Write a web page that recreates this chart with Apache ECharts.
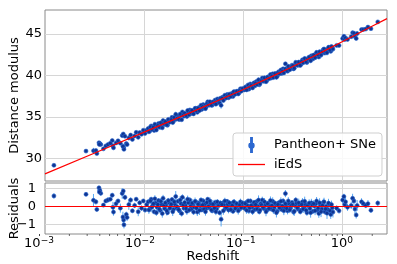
<!DOCTYPE html>
<html><head><meta charset="utf-8">
<script src="https://cdn.jsdelivr.net/npm/echarts@6/dist/echarts.min.js"></script>
<style>html,body{margin:0;padding:0;background:#fff}#c{width:397px;height:264px}</style>
</head><body><div id="c"></div>
<script>
// ---- data ----
const redshift = [
0.00123,0.00259,0.00308,0.00326,0.00333,0.00350,0.00357,0.00365,0.00353,0.00388,0.00410,0.00431,0.00476,0.00484,0.00490,0.00455,0.00520,0.00545,0.00575,0.00600,0.00615,0.00620,0.00625,0.00610,0.00640,0.00660,0.00672,0.00700,0.00730,0.00760,0.00800,0.00830,0.00870,0.00900,0.00940,0.00980,0.0102,0.0106,
0.01096,0.01135,0.01175,0.01216,0.01259,0.01303,0.01349,0.01396,0.01445,0.01496,0.01549,0.01603,0.01660,0.01718,0.01778,0.01841,0.01905,0.01972,0.02042,0.02113,0.02188,0.02265,0.02344,0.02427,0.02512,0.02600,0.02692,0.02786,0.02884,0.02985,0.03090,0.03199,0.03311,0.03428,0.03548,0.03673,0.03802,0.03936,0.04074,0.04217,0.04365,0.04519,0.04677,0.04842,0.05012,0.05188,0.05370,0.05559,0.05754,0.05957,0.06166,0.06383,0.06607,0.06839,0.07079,0.07328,0.07586,0.07852,0.08128,0.08414,0.08710,0.09016,0.09333,0.09661,
0.1023,0.1059,0.1096,0.1135,0.1175,0.1216,0.1259,0.1303,0.1349,0.1396,0.1445,0.1496,0.1549,0.1603,0.1660,0.1718,0.1778,0.1841,0.1905,0.1972,0.2042,0.2113,0.2188,0.2265,0.2344,0.2427,0.2512,0.2600,0.2692,0.2786,0.2884,0.2985,0.3090,0.3199,0.3311,0.3428,0.3548,0.3673,0.3802,0.3936,0.4074,0.4217,0.4365,0.4519,0.4677,0.4842,0.5012,0.5188,0.5370,0.5559,0.5754,0.5957,0.6166,0.6383,0.6607,0.6839,0.7079,0.7328,0.7586,0.7852,0.265,
0.870,0.920,1.00,1.03,1.05,1.07,1.12,1.22,1.26,1.30,1.33,1.37,1.40,1.55,1.62,1.71,1.80,1.93,2.26,
0.01115,0.01155,0.01195,0.01237,0.01281,0.01326,0.01372,0.01420,0.01470,0.01522,0.01576,0.01631,0.01689,0.01748,0.01809,0.01873,0.01938,0.02006,0.02078,0.02150,0.02226,0.02304,0.02385,0.02469,0.02556,0.02645,0.02739,0.02834,0.02934,0.03037,0.03144,0.03255,0.03369,0.03488,0.03610,0.03737,0.03868,0.04004,0.04145,0.04290,0.04441,0.04598,0.04758,0.04926,0.05099,0.05278,0.05463,0.05656,0.05854,0.06061,0.06273,0.06494,0.06722,0.06958,0.07202,0.07456,0.07718,0.07989,0.08269,0.08560,0.08862,0.09173,0.09495,0.09829,
0.1041,0.1077,0.1115,0.1155,0.1195,0.1237,0.1281,0.1326,0.1372,0.1420,0.1470,0.1522,0.1576,0.1631,0.1689,0.1748,0.1809,0.1873,0.1938,0.2006,0.2078,0.2150,0.2226,0.2304,0.2385,0.2469,0.2556,0.2645,0.2739,0.2834,0.2934,0.3037,0.3144,0.3255,0.3369,0.3488,0.3610,0.3737,0.3868,0.4004,0.4145,0.4290,0.4441,0.4598,0.4758,0.4926,0.5099,0.5278,0.5463,0.5656,0.5854,0.6061,0.6273,0.6494,0.6722,0.6958,0.7202,0.7456,0.7718,0.7989];
const distanceModulus = [
29.16,30.87,30.91,30.95,30.57,31.88,31.78,31.67,31.67,31.14,31.49,31.66,32.14,31.50,31.26,31.82,31.86,32.11,31.83,32.74,32.93,31.33,31.08,31.46,32.66,31.78,31.65,32.46,32.80,32.28,32.70,33.13,32.53,33.10,32.90,33.39,32.99,33.37,
33.60,33.27,33.90,33.62,33.35,33.91,33.75,34.20,33.73,34.13,34.55,34.06,34.34,33.98,34.63,34.48,34.94,34.46,34.83,34.71,35.14,34.69,35.17,35.59,35.07,35.30,35.04,35.60,35.83,35.40,35.73,35.66,36.03,35.54,36.12,36.03,35.89,36.47,36.36,36.20,36.80,36.40,36.70,36.38,36.76,37.01,36.71,37.04,36.67,36.38,37.36,37.33,37.23,37.69,37.29,37.62,37.80,37.45,38.01,37.84,38.07,37.87,38.38,38.21,
38.24,38.62,38.55,38.33,38.96,38.69,38.94,38.72,39.24,39.07,38.85,39.38,39.66,39.28,39.56,39.34,39.83,39.75,39.66,40.17,39.90,40.18,39.87,40.43,40.36,40.22,40.78,40.52,40.76,40.49,40.98,40.81,41.22,40.77,41.22,41.44,41.20,41.52,41.31,41.86,41.65,41.91,41.53,42.07,41.94,42.35,41.96,42.35,42.57,42.31,42.20,42.77,42.63,43.09,42.67,43.06,42.97,43.36,42.88,43.34,41.38,
43.60,43.59,44.42,44.70,44.30,44.50,44.32,44.65,45.13,45.07,44.68,44.43,45.02,45.50,45.52,45.56,45.80,45.61,46.43,
33.19,33.76,33.49,33.76,34.11,33.41,33.94,33.77,34.27,33.67,34.19,34.42,34.04,34.69,34.35,34.64,34.30,34.92,35.30,34.81,34.72,35.33,34.65,35.21,35.43,35.16,35.76,35.24,35.53,35.77,35.35,36.02,35.72,36.02,35.75,36.40,36.21,36.05,35.98,36.58,36.44,36.81,36.39,36.79,36.65,36.52,37.15,37.03,37.24,37.24,36.96,37.59,37.32,37.57,37.73,37.43,37.74,38.02,37.72,38.07,37.75,38.16,38.08,38.42,
38.53,38.24,38.84,38.54,38.75,38.48,39.09,39.05,38.88,39.46,38.99,39.35,39.31,39.69,39.22,39.75,39.57,40.09,39.90,39.72,40.20,39.75,40.29,40.19,40.64,40.46,40.28,40.76,40.58,41.08,40.67,41.01,41.16,40.85,41.57,41.22,41.59,41.18,41.67,41.51,42.03,41.61,41.97,42.19,41.75,42.27,42.43,42.12,42.76,42.45,42.84,42.43,42.87,43.17,42.86,42.72,43.37,43.03,43.47,43.15];
const distanceError = [
0.15,0.12,0.35,0.15,0.12,0.12,0.12,0.15,0.10,0.12,0.12,0.15,0.13,0.30,0.20,0.10,0.20,0.12,0.25,0.30,0.12,0.15,0.20,0.30,0.15,0.15,0.20,0.30,0.15,0.12,0.15,0.12,0.25,0.13,0.15,0.12,0.15,0.12,
0.14,0.18,0.12,0.20,0.15,0.11,0.22,0.13,0.16,0.12,0.19,0.14,0.25,0.12,0.15,0.18,0.13,0.21,0.11,0.16,0.14,0.23,0.12,0.17,0.15,0.13,0.20,0.12,0.16,0.14,0.18,0.11,0.15,0.22,0.13,0.17,0.12,0.16,0.14,0.20,0.12,0.15,0.18,0.13,0.11,0.16,0.21,0.12,0.15,0.40,0.14,0.12,0.17,0.13,0.19,0.11,0.15,0.14,0.20,0.12,0.16,0.13,0.18,0.12,
0.12,0.15,0.11,0.18,0.13,0.14,0.20,0.12,0.16,0.11,0.15,0.13,0.19,0.12,0.14,0.17,0.11,0.15,0.13,0.22,0.12,0.14,0.16,0.13,0.18,0.11,0.15,0.14,0.12,0.20,0.13,0.15,0.12,0.17,0.14,0.19,0.12,0.16,0.13,0.21,0.14,0.12,0.18,0.15,0.13,0.22,0.14,0.16,0.19,0.15,0.24,0.14,0.17,0.20,0.16,0.18,0.22,0.17,0.25,0.19,0.20,
0.15,0.15,0.20,0.15,0.20,0.25,0.20,0.20,0.25,0.20,0.25,0.20,0.30,0.20,0.15,0.15,0.20,0.15,0.15,
0.22,0.16,0.28,0.14,0.20,0.18,0.25,0.15,0.19,0.23,0.14,0.17,0.26,0.15,0.21,0.13,0.24,0.16,0.30,0.14,0.19,0.22,0.17,0.15,0.25,0.13,0.20,0.18,0.14,0.23,0.16,0.21,0.13,0.19,0.26,0.15,0.18,0.14,0.22,0.16,0.13,0.20,0.17,0.24,0.15,0.19,0.14,0.21,0.16,0.13,0.22,0.18,0.15,0.20,0.14,0.17,0.25,0.13,0.19,0.16,0.21,0.14,0.18,0.15,
0.16,0.20,0.13,0.24,0.15,0.18,0.14,0.22,0.17,0.26,0.13,0.19,0.15,0.21,0.25,0.14,0.18,0.23,0.16,0.20,0.14,0.27,0.15,0.19,0.22,0.13,0.24,0.17,0.15,0.21,0.18,0.14,0.20,0.25,0.16,0.19,0.23,0.15,0.18,0.22,0.26,0.17,0.15,0.21,0.28,0.16,0.19,0.24,0.22,0.18,0.25,0.30,0.20,0.23,0.19,0.32,0.24,0.27,0.22,0.30];
const residuals = [
0.58,0.67,0.34,0.25,-0.17,1.03,0.89,0.73,0.80,0.07,0.30,0.36,0.62,-0.05,-0.32,0.40,0.15,0.30,-0.10,0.72,0.85,-0.76,-1.03,-0.60,0.50,-0.45,-0.62,0.10,0.35,-0.25,0.05,0.40,-0.30,0.20,-0.10,0.30,-0.20,0.10,
0.25,-0.15,0.40,0.05,-0.30,0.18,-0.05,0.32,-0.22,0.10,0.45,-0.12,0.08,-0.35,0.22,0.00,0.38,-0.18,0.12,-0.08,0.28,-0.25,0.15,0.50,-0.10,0.05,-0.28,0.20,0.35,-0.15,0.10,-0.05,0.25,-0.32,0.18,0.02,-0.20,0.30,0.12,-0.12,0.40,-0.08,0.15,-0.25,0.05,0.22,-0.15,0.10,-0.35,-0.72,0.18,0.08,-0.10,0.28,-0.20,0.05,0.15,-0.28,0.20,-0.05,0.10,-0.18,0.25,0.00,
-0.10,0.20,0.05,-0.25,0.30,-0.05,0.12,-0.18,0.25,0.00,-0.30,0.15,0.35,-0.12,0.08,-0.22,0.18,0.02,-0.15,0.28,-0.08,0.12,-0.28,0.20,0.05,-0.18,0.30,-0.05,0.10,-0.25,0.15,-0.10,0.22,-0.32,0.05,0.18,-0.15,0.08,-0.22,0.25,-0.05,0.12,-0.35,0.10,-0.12,0.20,-0.28,0.02,0.15,-0.20,-0.40,0.08,-0.15,0.22,-0.30,0.00,-0.18,0.12,-0.45,-0.08,0.71,
-0.10,-0.25,0.35,0.55,0.10,0.25,-0.05,0.05,0.45,0.30,-0.15,-0.48,0.05,0.25,0.15,0.05,0.15,-0.22,0.18,
-0.20,0.30,-0.05,0.15,0.42,-0.35,0.10,-0.15,0.28,-0.40,0.05,0.20,-0.25,0.32,-0.10,0.12,-0.30,0.25,0.55,-0.02,-0.18,0.35,-0.40,0.08,0.22,-0.12,0.40,-0.20,0.02,0.18,-0.32,0.28,-0.10,0.12,-0.22,0.35,0.08,-0.15,-0.30,0.22,0.00,0.30,-0.20,0.12,-0.10,-0.30,0.25,0.05,0.18,0.10,-0.25,0.30,-0.05,0.12,0.20,-0.18,0.05,0.25,-0.12,0.15,-0.25,0.08,-0.08,0.18,
0.15,-0.22,0.30,-0.08,0.05,-0.30,0.22,0.10,-0.15,0.35,-0.20,0.08,-0.05,0.25,-0.30,0.15,-0.12,0.32,0.05,-0.22,0.18,-0.35,0.10,-0.08,0.28,0.02,-0.25,0.15,-0.12,0.30,-0.20,0.05,0.12,-0.28,0.35,-0.08,0.20,-0.30,0.10,-0.15,0.28,-0.22,0.05,0.18,-0.35,0.08,0.15,-0.25,0.30,-0.10,0.20,-0.30,0.05,0.25,-0.15,-0.38,0.18,-0.25,0.10,-0.32];
const modelRedshift = [0.001,0.003,0.01,0.03,0.1,0.2,0.3,0.5,0.7,1.0,1.5,2.0,2.8];
const modelMu = [28.13,30.52,33.15,35.56,38.29,39.93,40.93,42.23,43.12,44.07,45.16,45.93,46.82];
const minorTickRedshift = [0.002,0.003,0.004,0.005,0.006,0.007,0.008,0.009,0.02,0.03,0.04,0.05,0.06,0.07,0.08,0.09,0.2,0.3,0.4,0.5,0.6,0.7,0.8,0.9,2];
const muTicks = [30,35,40,45];
const residualTicks = [-1,0,1];
const legendNames = ['Pantheon+ SNe','iEdS'];

// ---- chart ----
const ERR_COLOR = '#58a9f4', PT_COLOR = '#0f3592', PT_EDGE = '#2c68d0', FRAME = '#8a8a8a', GRIDC = '#d6d6d6';
const FONT = 'DejaVu Sans';
const topPts = redshift.map((z,i)=>[z, distanceModulus[i], distanceError[i]]);
const resPts = redshift.map((z,i)=>[z, residuals[i], distanceError[i]]);
const modelPts = modelRedshift.map((z,i)=>[z, modelMu[i]]);
const resFmt = v => (Number(v)<0?'\u2212':'') + Math.abs(Number(v));

function errBar(params, api){
  const x = api.value(0), y = api.value(1), e = api.value(2);
  const a = api.coord([x, y - e]), b = api.coord([x, y + e]);
  return {type:'line', shape:{x1:a[0], y1:a[1], x2:b[0], y2:b[1]}, style:{stroke:ERR_COLOR, lineWidth:1}};
}
function minorTick(params, api){
  const cs = params.coordSys;
  const x = api.coord([api.value(0), 0])[0];
  const yb = cs.y + cs.height;
  return {type:'line', shape:{x1:x, y1:yb, x2:x, y2:yb+2}, style:{stroke:'#444', lineWidth:0.8}};
}
const supFmt = v => { const e = Math.round(Math.log10(v)); return '{b|10}{s|' + (e<0?'\u2212':'') + Math.abs(e) + '}'; };

const xBase = {type:'log', logBase:10, min:0.001, max:2.8,
  axisLine:{show:false, onZero:false},
  splitLine:{show:true, showMinLine:false, showMaxLine:false, lineStyle:{color:GRIDC, width:1}}};

const chart = echarts.init(document.getElementById('c'), null, {renderer:'canvas'});
chart.setOption({
  animation:false,
  textStyle:{fontFamily:FONT},
  grid:[
    {left:39, top:10, width:348, height:171, show:true, borderColor:FRAME, borderWidth:1},
    {left:39, top:183, width:348, height:51, show:true, borderColor:FRAME, borderWidth:1},
    {left:39, top:183, width:348, height:51, show:false}
  ],
  xAxis:[
    Object.assign({gridIndex:0, axisLabel:{show:false}, axisTick:{show:false}}, xBase),
    Object.assign({gridIndex:1, axisLabel:{show:false}, axisTick:{show:false}}, xBase),
    {gridIndex:2, type:'log', logBase:10, min:0.001, max:2.8,
      axisLine:{show:false, onZero:false}, splitLine:{show:false},
      axisTick:{show:true, length:2, lineStyle:{color:'#444'}},
      axisLabel:{show:true, margin:2, showMinLabel:true, showMaxLabel:false, formatter:supFmt,
        rich:{b:{fontSize:13, color:'#000', fontFamily:FONT, lineHeight:16},
              s:{fontSize:9, color:'#000', fontFamily:FONT, verticalAlign:'top'}}},
      name:'Redshift', nameLocation:'middle', nameGap:16, nameMoveOverlap:false,
      nameTextStyle:{fontSize:13, color:'#000', fontFamily:FONT, verticalAlign:'top'}}
  ],
  yAxis:[
    {gridIndex:0, type:'value', min:27.27, max:47.86,
     axisLine:{show:false, onZero:false}, axisTick:{show:false, customValues:muTicks},
     axisLabel:{fontSize:13, color:'#000', margin:3, customValues:muTicks},
     splitLine:{show:true, lineStyle:{color:GRIDC}},
     name:'Distance modulus', nameLocation:'middle', nameGap:24, nameMoveOverlap:false,
     nameTextStyle:{fontSize:13, color:'#000', fontFamily:FONT}},
    {gridIndex:1, type:'value', min:-1.54, max:1.30,
     axisLine:{show:false, onZero:false}, axisTick:{show:false, customValues:residualTicks},
     axisLabel:{show:false, customValues:residualTicks},
     splitLine:{show:true, lineStyle:{color:GRIDC}},
     name:'Residuals', nameLocation:'middle', nameGap:24, nameMoveOverlap:false,
     nameTextStyle:{fontSize:13, color:'#000', fontFamily:FONT}},
    {gridIndex:2, type:'value', min:-1.54, max:1.30, show:false}
  ],
  legend:{
    orient:'vertical', left:233, top:133, itemWidth:27, itemHeight:14, itemGap:5,
    padding:[4,6,5,5], backgroundColor:'rgba(255,255,255,0.85)', borderColor:'#cfcfcf',
    borderWidth:1, borderRadius:3, selectedMode:false,
    textStyle:{fontSize:13, color:'#000', fontFamily:FONT, padding:[0,0,0,4]},
    data:[
      {name:legendNames[0], icon:'path://M2.5,0L3.5,0L3.5,16L2.5,16Z M0.5,8.5A2.5,2.5 0 1,0 5.5,8.5A2.5,2.5 0 1,0 0.5,8.5Z', itemStyle:{color:'#2a62c6'}},
      {name:legendNames[1], icon:'path://M0,0L27,0L27,1.3L0,1.3Z', itemStyle:{color:'#ff0000'}}
    ]
  },
  series:[
    {type:'custom', name:'err-top', xAxisIndex:0, yAxisIndex:0, data:topPts, renderItem:errBar, clip:true, silent:true, z:2},
    {type:'scatter', name:legendNames[0], xAxisIndex:0, yAxisIndex:0, data:topPts, symbol:'circle', symbolSize:4,
     itemStyle:{color:PT_COLOR, borderColor:PT_EDGE, borderWidth:0.6, opacity:1}, z:3, clip:true},
    {type:'line', name:legendNames[1], xAxisIndex:0, yAxisIndex:0, data:modelPts, showSymbol:false, symbol:'none',
     lineStyle:{color:'#ff0000', width:1.2}, itemStyle:{color:'#ff0000'}, z:5, clip:true},
    {type:'custom', name:'err-res', xAxisIndex:1, yAxisIndex:1, data:resPts, renderItem:errBar, clip:true, silent:true, z:2},
    {type:'scatter', name:'res', xAxisIndex:1, yAxisIndex:1, data:resPts, symbol:'circle', symbolSize:4,
     itemStyle:{color:PT_COLOR, borderColor:PT_EDGE, borderWidth:0.6, opacity:1}, z:3, clip:true,
     markLine:{silent:true, symbol:'none', label:{show:false}, z:5,
       lineStyle:{color:'#ff0000', width:1.2, type:'solid'}, data:[{yAxis:0}]}},
    {type:'custom', name:'minor', xAxisIndex:2, yAxisIndex:2, data:minorTickRedshift.map(z=>[z]), renderItem:minorTick, clip:false, silent:true, z:6}
  ]
});
// residual tick labels, placed through the residual axis scale
const labelRight = 36;
chart.setOption({
  graphic: residualTicks.map(v => ({
    type:'text', x: labelRight, y: chart.convertToPixel({yAxisIndex:1}, v), z:100, silent:true,
    style:{text: resFmt(v), fontSize:13, fontFamily:FONT, fill:'#000', align:'right', verticalAlign:'middle',
           textAlign:'right', textVerticalAlign:'middle'}
  }))
});
</script></body></html>
